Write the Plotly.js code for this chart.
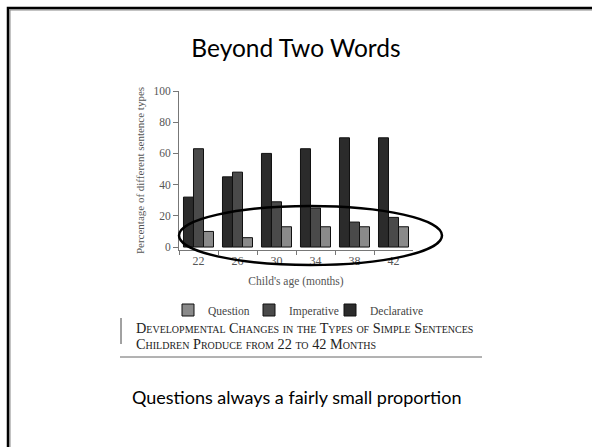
<!DOCTYPE html>
<html>
<head>
<meta charset="utf-8">
<script src="https://cdn.plot.ly/plotly-3.0.1.min.js"></script>
<style>html,body{margin:0;padding:0;background:#fff;}#chart{width:592px;height:447px;}</style>
</head>
<body>
<div id="chart"></div>
<script>
const ages = ["22", "26", "30", "34", "38", "42"];
const declarative = [32, 45, 60, 63, 70, 70];
const imperative = [63, 48, 29, 25, 16, 19];
const question = [10, 6, 13, 13, 13, 13];
const seriesNames = ["Declarative", "Imperative", "Question"];
const yTicks = [0, 20, 40, 60, 80, 100];
const captionLines = [
  "Developmental Changes in the Types of Simple Sentences",
  "Children Produce from 22 to 42 Months"
];

const W = 592, H = 447;
const px = v => v / W;
const py = v => 1 - v / H;
const serif = "Liberation Serif, DejaVu Serif, serif";

const colors = ["#2b2b2b", "#4a4a4a", "#8a8a8a"];
const dataSets = [declarative, imperative, question];
// invisible spacer legend entry (scatter, so it takes no bar slot)
const spacer = {
  type: "scatter", mode: "markers", name: "\u00a0", x: [ages[0]], y: [null],
  marker: {color: "rgba(0,0,0,0)", size: 1}, hoverinfo: "skip"
};
const traces = [spacer].concat(dataSets.map((vals, i) => ({
  type: "bar",
  name: seriesNames[i],
  x: ages,
  y: vals,
  marker: {color: colors[i], line: {color: "#111", width: 1}},
  hoverinfo: "skip"
})));

const layout = {
  width: W, height: H,
  margin: {l: 0, r: 0, t: 0, b: 0},
  paper_bgcolor: "#fff", plot_bgcolor: "#fff",
  showlegend: true,
  barmode: "group",
  bargap: 0.23,
  bargroupgap: 0,
  title: {
    text: "Beyond Two Words",
    font: {family: "Lato, Open Sans, sans-serif", size: 24.5, color: "#000"},
    x: 0.5, xanchor: "center", y: py(48), yanchor: "middle", yref: "paper"
  },
  xaxis: {
    type: "category",
    domain: [px(179), px(413)],
    tickson: "boundaries",
    ticks: "outside", ticklen: 4, tickcolor: "#777", tickwidth: 1,
    showline: true, linecolor: "#777", linewidth: 1,
    showgrid: false, zeroline: false,
    tickfont: {family: serif, size: 12, color: "#555"},
    title: {text: "Child's age (months)", font: {family: serif, size: 11.5, color: "#555"}, standoff: 9}
  },
  yaxis: {
    domain: [py(250), py(91)],
    range: [-1.9, 100],
    tickvals: yTicks,
    ticks: "outside", ticklen: 5, tickcolor: "#777", tickwidth: 1,
    showline: true, linecolor: "#777", linewidth: 1,
    showgrid: false, zeroline: false,
    tickfont: {family: serif, size: 11.5, color: "#555"},
    title: {text: "Percentage of different sentence types", font: {family: serif, size: 11, color: "#555"}, standoff: 6}
  },
  legend: {
    orientation: "h",
    traceorder: "reversed",
    x: px(168), xanchor: "left",
    y: py(310), yanchor: "middle",
    font: {family: serif, size: 11.5, color: "#444"},
    itemwidth: 30,
    entrywidth: 36, entrywidthmode: "pixels",
    tracegroupgap: 0,
    bgcolor: "rgba(0,0,0,0)"
  },
  annotations: [
    {
      xref: "paper", yref: "paper", x: px(134), y: py(327.5), xanchor: "left", yanchor: "middle",
      showarrow: false, align: "left", text: captionLines[0],
      font: {family: serif, size: 14.3, color: "#222", variant: "small-caps"}
    },
    {
      xref: "paper", yref: "paper", x: px(134), y: py(343.5), xanchor: "left", yanchor: "middle",
      showarrow: false, align: "left", text: captionLines[1],
      font: {family: serif, size: 14.3, color: "#222", variant: "small-caps"}
    },
    {
      xref: "paper", yref: "paper", x: 0.5, y: py(397), xanchor: "center", yanchor: "middle",
      showarrow: false,
      text: "Questions always a fairly small proportion",
      font: {family: "Lato, Open Sans, sans-serif", size: 18, color: "#000"}
    }
  ],
  shapes: [
    {type: "line", xref: "paper", yref: "paper", x0: px(121), x1: px(121), y0: py(318), y1: py(344), line: {color: "#444", width: 1}},
    {type: "line", xref: "paper", yref: "paper", x0: px(120), x1: px(482), y0: py(357), y1: py(357), line: {color: "#666", width: 1}},
    {type: "circle", xref: "paper", yref: "paper", x0: px(179), x1: px(442), y0: py(206), y1: py(265), line: {color: "#000", width: 2.5}},
    {type: "rect", xref: "paper", yref: "paper", x0: px(10), x1: px(600), y0: py(10), y1: py(460), line: {color: "#888", width: 1}},
    {type: "rect", xref: "paper", yref: "paper", x0: px(8), x1: px(600), y0: py(8), y1: py(460), line: {color: "#000", width: 2.5}}
  ]
};

Plotly.newPlot("chart", traces, layout, {displayModeBar: false, staticPlot: true});
</script>
</body>
</html>
